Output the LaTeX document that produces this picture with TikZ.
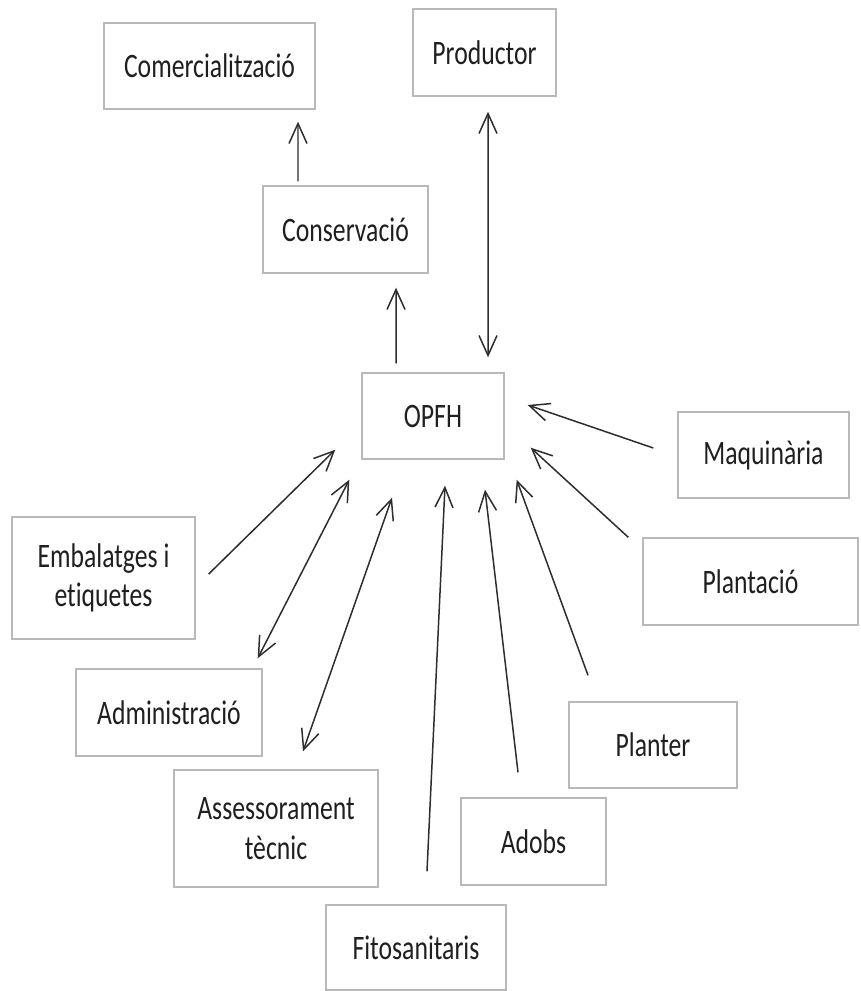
\documentclass[tikz,border=0pt]{standalone}
\usepackage{fontspec}
\setmainfont[FakeStretch=0.75, Ligatures={NoCommon}]{Carlito}
\usepackage{xcolor}
\usepackage{tikz}
\usetikzlibrary{calc}
\usetikzlibrary{arrows.meta}

\definecolor{boxgray}{RGB}{185,185,185}
\definecolor{linegray}{RGB}{45,45,45}

\begin{document}
\begin{tikzpicture}[x=0.02cm, y=-0.02cm,
    box/.style={draw=boxgray, line width=0.8pt, inner sep=0pt, align=center,
        text=black!88, font=\fontsize{19.5}{22.5}\selectfont},
    arr/.style={-{Straight Barb[length=0.4cm, width=0.36cm]}, linegray, line width=0.85pt},
    darr/.style={{Straight Barb[length=0.4cm, width=0.36cm]}-{Straight Barb[length=0.4cm, width=0.36cm]}, linegray, line width=0.85pt}]
    \useasboundingbox (0,0) rectangle (861,991);

    \node[box, minimum width=4.22cm, minimum height=1.72cm] (com) at (209.5,66) {Comercialització};
    \node[box, minimum width=2.86cm, minimum height=1.74cm] (prod) at (484.5,52.5) {Productor};
    \node[box, minimum width=3.30cm, minimum height=1.74cm] (cons) at (345.5,229.5) {Conservació};
    \node[box, minimum width=2.84cm, minimum height=1.72cm] (opfh) at (433,416) {OPFH};
    \node[box, minimum width=3.42cm, minimum height=1.72cm] (maq) at (763.5,455) {Maquinària};
    \node[box, minimum width=4.30cm, minimum height=1.74cm] (plant) at (750.5,581.5) {Plantació};
    \node[box, minimum width=3.66cm, minimum height=2.44cm] (emb) at (103.5,578) {Embalatges i\\etiquetes};
    \node[box, minimum width=3.72cm, minimum height=1.74cm] (adm) at (169,712.5) {Administració};
    \node[box, minimum width=4.08cm, minimum height=2.34cm] (ass) at (276,828.5) {Assessorament\\tècnic};
    \node[box, minimum width=3.60cm, minimum height=1.70cm] (fito) at (416,947.5) {Fitosanitaris};
    \node[box, minimum width=2.90cm, minimum height=1.74cm] (adobs) at (533.5,841.5) {Adobs};
    \node[box, minimum width=3.36cm, minimum height=1.72cm] (planter) at (653,745) {Planter};

    \draw[arr] ($(cons.north)+(-47.5,-4)$) -- ($(com.south)+(88.5,12)$);
    \draw[arr] ($(opfh.north)+(-37,-9)$) -- ($(cons.south)+(50.5,14)$);
    \draw[darr] ($(prod.south)+(3.5,15)$) -- ($(opfh.north)+(55,-15)$);
    \draw[arr] ($(maq.west)+(-24,-7)$) -- ($(opfh.east)+(23,-11)$);
    \draw[arr] ($(plant.north west)+(-14,0)$) -- ($(opfh.south east)+(26,-12)$);
    \draw[arr] ($(planter.north)+(-65,-26)$) -- ($(opfh.south east)+(12,20)$);
    \draw[arr] ($(adobs.north)+(-15.5,-25)$) -- ($(opfh.south)+(52,30)$);
    \draw[arr] ($(fito.north)+(11,-33)$) -- ($(opfh.south)+(12,26)$);
    \draw[darr] ($(ass.north)+(27,-18)$) -- ($(opfh.south)+(-41,38)$);
    \draw[darr] ($(adm.north east)+(-5,-10)$) -- ($(opfh.south west)+(-12,20)$);
    \draw[arr] ($(emb.east)+(13,-4)$) -- ($(opfh.south west)+(-26,-10)$);
\end{tikzpicture}
\end{document}
